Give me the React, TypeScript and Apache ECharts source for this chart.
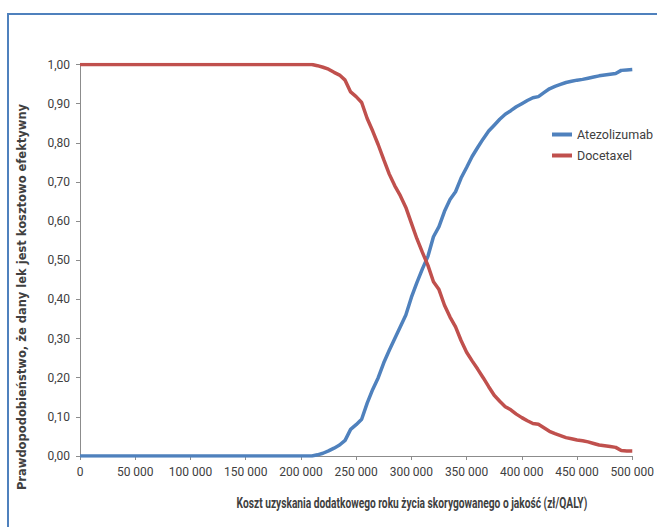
import React, { useEffect, useRef } from "react";
import * as echarts from "echarts";

const xValues: number[] = [];
for (let i = 0; i <= 100; i++) xValues.push(i * 5000);

// Values, one per 5 000 zł step, 0 … 500 000
const atezolizumab: number[] = [
  0, 0, 0, 0, 0, 0, 0, 0, 0, 0,
  0, 0, 0, 0, 0, 0, 0, 0, 0, 0,
  0, 0, 0, 0.003, 0.007, 0.013, 0.02, 0.028, 0.04, 0.068,
  0.08, 0.094, 0.135, 0.17, 0.2, 0.238, 0.27, 0.3, 0.33, 0.36,
  0.405, 0.443, 0.478, 0.51, 0.56, 0.586, 0.625, 0.655, 0.675, 0.71,
  0.737, 0.765, 0.788, 0.81, 0.83, 0.845, 0.86, 0.873, 0.882, 0.892,
  0.9, 0.908, 0.915, 0.918, 0.928, 0.938, 0.944, 0.949, 0.954, 0.957,
  0.96, 0.962, 0.965, 0.968, 0.971, 0.973, 0.975, 0.977, 0.985, 0.986,
  0.987,
];

const docetaxel: number[] = [
  1, 1, 1, 1, 1, 1, 1, 1, 1, 1,
  1, 1, 1, 1, 1, 1, 1, 1, 1, 1,
  1, 1, 1, 0.997, 0.993, 0.988, 0.98, 0.973, 0.96, 0.93,
  0.918, 0.903, 0.862, 0.83, 0.795, 0.757, 0.72, 0.69, 0.665, 0.635,
  0.595, 0.555, 0.52, 0.487, 0.445, 0.425, 0.385, 0.355, 0.33, 0.295,
  0.265, 0.243, 0.222, 0.2, 0.177, 0.155, 0.14, 0.126, 0.118, 0.107,
  0.098, 0.09, 0.083, 0.081, 0.072, 0.063, 0.057, 0.052, 0.047, 0.044,
  0.041, 0.039, 0.036, 0.032, 0.028, 0.026, 0.024, 0.022, 0.014, 0.013,
  0.013,
];

const seriesNames = ["Atezolizumab", "Docetaxel"];
const xAxisTitle = "Koszt uzyskania dodatkowego roku życia skorygowanego o jakość (zł/QALY)";
const yAxisTitle = "Prawdopodobieństwo, że dany lek jest kosztowo efektywny";

const FONT = "Roboto, 'Open Sans', sans-serif";

function pairs(vals: number[]): number[][] {
  const n = xValues.length;
  const pad = n - vals.length;
  const out: number[][] = [];
  for (let i = 0; i < n; i++) {
    const v = i < pad ? vals[0] : vals[i - pad];
    out.push([xValues[i], v]);
  }
  return out;
}

function measure(text: string, font: string): number {
  const c = document.createElement("canvas").getContext("2d");
  if (!c) return 0;
  c.font = font;
  return c.measureText(text).width;
}

export default function App() {
  const ref = useRef<HTMLDivElement>(null);
  useEffect(() => {
    if (!ref.current) return;
    const chart = echarts.init(ref.current, null, { renderer: "svg" });
    const xtW = measure(xAxisTitle, "bold 14px Roboto") || 470;
    const xtScale = 351 / xtW;
    chart.setOption({
      animation: false,
      backgroundColor: "#ffffff",
      grid: { left: 80, top: 64.5, width: 556.5, height: 391.5, containLabel: false },
      legend: {
        orient: "vertical",
        left: 547,
        top: 123,
        itemWidth: 20,
        itemHeight: 4,
        itemGap: 8,
        icon: "rect",
        textStyle: { fontFamily: FONT, fontSize: 12.5, color: "#404040" },
        data: seriesNames,
      },
      xAxis: {
        type: "value",
        min: 0,
        max: 500000,
        interval: 50000,
        axisLine: { show: true, lineStyle: { color: "#8c8c8c", width: 1 } },
        axisTick: { show: true, length: 4, lineStyle: { color: "#8c8c8c" } },
        splitLine: { show: false },
        axisLabel: {
          margin: 10,
          fontFamily: FONT,
          fontSize: 12,
          color: "#404040",
          formatter: (v: number) => (v === 0 ? "0" : String(v / 1000) + " 000"),
        },
      },
      yAxis: {
        type: "value",
        min: 0,
        max: 1,
        interval: 0.1,
        axisLine: { show: true, lineStyle: { color: "#8c8c8c", width: 1 } },
        axisTick: { show: true, length: 4, lineStyle: { color: "#8c8c8c" } },
        splitLine: { show: false },
        axisLabel: {
          margin: 10,
          fontFamily: FONT,
          fontSize: 12,
          color: "#404040",
          formatter: (v: number) => v.toFixed(2).replace(".", ","),
        },
      },
      series: [
        {
          name: seriesNames[0],
          type: "line",
          data: pairs(atezolizumab),
          showSymbol: false,
          symbol: "none",
          lineStyle: { color: "#4F81BD", width: 3.5 },
          itemStyle: { color: "#4F81BD" },
        },
        {
          name: seriesNames[1],
          type: "line",
          data: pairs(docetaxel),
          showSymbol: false,
          symbol: "none",
          lineStyle: { color: "#C0504D", width: 3.5 },
          itemStyle: { color: "#C0504D" },
        },
      ],
      graphic: [
        {
          type: "rect",
          shape: { x: 8, y: 14, width: 700, height: 600 },
          style: { fill: "none", stroke: "#4F81BD", lineWidth: 2 },
          silent: true,
          z: -1,
        },
        {
          type: "text",
          x: 412,
          y: 503,
          scaleX: xtScale,
          style: {
            text: xAxisTitle,
            fontFamily: "Roboto",
            fontSize: 14,
            fontWeight: "bold",
            fill: "#404040",
            align: "center",
            verticalAlign: "middle",
          },
        },
        {
          type: "text",
          x: 22,
          y: 297,
          rotation: Math.PI / 2,
          style: {
            text: yAxisTitle,
            fontFamily: "'DejaVu Sans', sans-serif",
            fontSize: 11.5,
            fontWeight: "bold",
            fill: "#404040",
            align: "center",
            verticalAlign: "middle",
          },
        },
      ],
    });
    return () => chart.dispose();
  }, []);
  return (
    <div
      ref={ref}
      style={{ position: "fixed", left: 0, top: 0, width: 657, height: 527 }}
    />
  );
}
